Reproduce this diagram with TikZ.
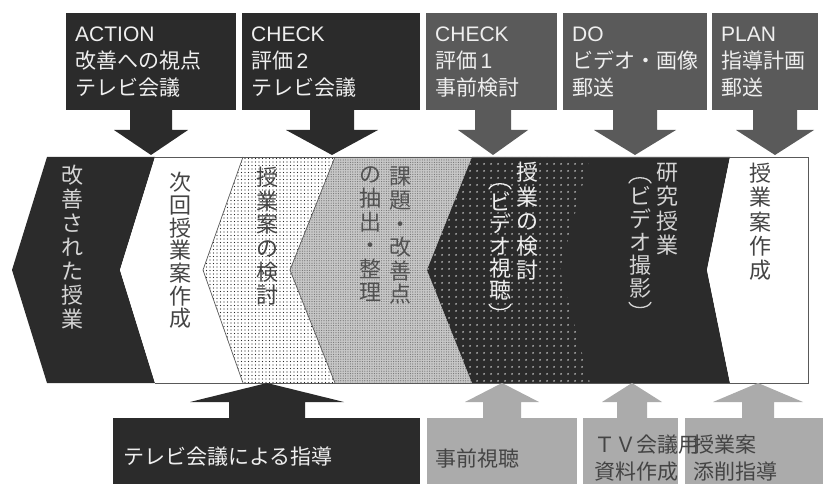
\documentclass[tikz,border=0pt]{standalone}
\usepackage{fontspec}
\setmainfont{Noto Sans CJK JP}
\newfontfamily\latf{Liberation Sans}
\usetikzlibrary{patterns,patterns.meta}
\definecolor{dk}{HTML}{2B2B2B}
\definecolor{md}{HTML}{5A5A5A}
\definecolor{lt}{HTML}{ABABAB}
\definecolor{txl}{HTML}{EFEFEF}
\definecolor{txg}{HTML}{D4D4D4}
\definecolor{txd}{HTML}{444444}
\newcommand\downArr[4]{\fill[#4] ({#1-#2},110) -- ({#1+#2},110) -- ({#1+#2},130) -- ({#1+#3},130) -- (#1,155) -- ({#1-#3},130) -- ({#1-#2},130) -- cycle;}
\newcommand\upArr[4]{\fill[#4] ({#1-#2},418) -- ({#1+#2},418) -- ({#1+#2},402) -- ({#1+#3},402) -- (#1,383) -- ({#1-#3},402) -- ({#1-#2},402) -- cycle;}
\begin{document}
\begin{tikzpicture}[x=1pt,y=-1pt,
  tbox/.style={anchor=north west, minimum height=97pt, inner xsep=9pt, inner ysep=0pt, align=left, font=\fontsize{21}{27}\selectfont},
  bbox/.style={anchor=north west, minimum height=70pt, inner sep=0pt},
  btxt/.style={anchor=west, align=left, inner sep=0pt, font=\fontsize{21}{27}\selectfont},
  vt/.style={anchor=north, align=center, inner sep=0pt, font=\fontsize{22}{23.6}\selectfont},
  parc/.style={line width=1.3pt, line cap=round},
  edge/.style={draw=black!65, line width=0.7pt}]
\useasboundingbox (0,0) rectangle (823,484);
% band segments
\fill[dk] (47,157) -- (155,157) -- (120,270) -- (155,383) -- (47,383) -- (12,270) -- cycle;
\fill[white] (155,157) -- (243,157) -- (203,270) -- (243,383) -- (155,383) -- (120,270) -- cycle;
\path[preaction={fill=white}, pattern={Dots[distance=3.5pt,radius=0.55pt]}, pattern color=black!85]
  (243,157) -- (335,157) -- (290,270) -- (335,383) -- (243,383) -- (203,270) -- cycle;
\path[preaction={fill=black!22}, pattern={Dots[distance=2.4pt,radius=0.6pt]}, pattern color=black!55]
  (335,157) -- (472,157) -- (427,270) -- (472,383) -- (335,383) -- (290,270) -- cycle;
\fill[dk] (472,157) -- (730,157) -- (707,270) -- (730,383) -- (472,383) -- (427,270) -- cycle;
\path[pattern={Dots[distance=6.5pt,radius=1.05pt]}, pattern color=white!75!black]
  (472,157) -- (590,157) -- (560,270) -- (590,383) -- (472,383) -- (427,270) -- cycle;
\fill[white] (730,157) -- (808,157) -- (808,383) -- (730,383) -- (707,270) -- cycle;
\draw[edge] (243,157) -- (203,270) -- (243,383);
\draw[edge] (335,157) -- (290,270) -- (335,383);
\draw[edge] (155,157) -- (808,157) -- (808,383) -- (155,383);
% vertical texts
\node[vt, text=txg, font=\fontsize{22}{24}\selectfont] (v1) at (72,165) {改\\善\\さ\\れ\\た\\授\\業};
\node[vt, text=txd, font=\fontsize{22}{22.7}\selectfont] (v2) at (180,172) {次\\回\\授\\業\\案\\作\\成};
\node[vt, text=txd] (v3) at (267,167) {授\\業\\案\\の\\検\\討};
\node[vt, text=black!68] (v4a) at (400,167) {課\\題\\・\\改\\善\\点};
\node[vt, text=black!68] (v4b) at (370,167) {の\\抽\\出\\・\\整\\理};
\node[vt, text=txl, font=\fontsize{22}{24.5}\selectfont] (v5a) at (527,162) {授\\業\\の\\検\\討};
\node[vt, text=txl, font=\fontsize{22}{22}\selectfont] (v5b) at (500,192) {ビ\\デ\\オ\\視\\聴};
\node[vt, text=txg, font=\fontsize{22}{24.3}\selectfont] (v6a) at (667,163) {研\\究\\授\\業};
\node[vt, text=txg, font=\fontsize{22}{23}\selectfont] (v6b) at (640,186) {ビ\\デ\\オ\\撮\\影};
\node[vt, text=txd, font=\fontsize{22}{24.3}\selectfont] (v7) at (760,163) {授\\業\\案\\作\\成};
% vertical parentheses
\draw[parc, txl] (v5b.north) ++(-11,-3) .. controls +(3,-7) and +(-3,-7) .. ++(22,0);
\draw[parc, txl] (v5b.south) ++(-11,4) .. controls +(3,7) and +(-3,7) .. ++(22,0);
\draw[parc, txg] (v6b.north) ++(-11,-3) .. controls +(3,-7) and +(-3,-7) .. ++(22,0);
\draw[parc, txg] (v6b.south) ++(-11,4) .. controls +(3,7) and +(-3,7) .. ++(22,0);
% top boxes
\node[tbox, fill=dk, text=txl, text width=152pt] (act) at (66,13) {{\latf ACTION}\\改善への視点\\テレビ会議};
\node[tbox, fill=dk, text=txl, text width=160pt] (chk2) at (242,13) {{\latf CHECK}\\評価\,{\latf 2}\\テレビ会議};
\node[tbox, fill=md, text=txl, text width=113pt] (chk1) at (426,13) {{\latf CHECK}\\評価\,{\latf 1}\\事前検討};
\node[tbox, fill=md, text=txl, text width=126pt] (do) at (563,13) {{\latf DO}\\ビデオ・画像\\郵送};
\node[tbox, fill=md, text=txl, text width=88pt] (plan) at (712,13) {{\latf PLAN}\\指導計画\\郵送};
% top arrows
\downArr{151}{21}{37}{dk}
\downArr{332}{22}{46}{dk}
\downArr{493}{18}{35}{md}
\downArr{635}{22}{41}{md}
\downArr{775}{22}{39}{md}
% bottom boxes
\node[bbox, fill=dk, minimum width=307pt] (b1) at (113,418) {};
\node[bbox, fill=lt, minimum width=150pt] (b2) at (427,418) {};
\node[bbox, fill=lt, minimum width=95pt] (b3) at (583,418) {};
\node[bbox, fill=lt, minimum width=140pt] (b4) at (685,418) {};
% bottom arrows
\upArr{267}{38}{77}{dk}
\upArr{502}{19}{37}{lt}
\upArr{632}{15}{30}{lt}
\upArr{758}{16}{45}{lt}
% bottom texts
\node[btxt, text=txl] (t1) at (123,457) {テレビ会議による指導};
\node[btxt, text=txd] (t2) at (435,458) {事前視聴};
\node[btxt, text=txd] (t3) at (594,458) {ＴＶ会議用\\資料作成};
\node[btxt, text=txd] (t4) at (693,458) {授業案\\添削指導};
\end{tikzpicture}
\end{document}
